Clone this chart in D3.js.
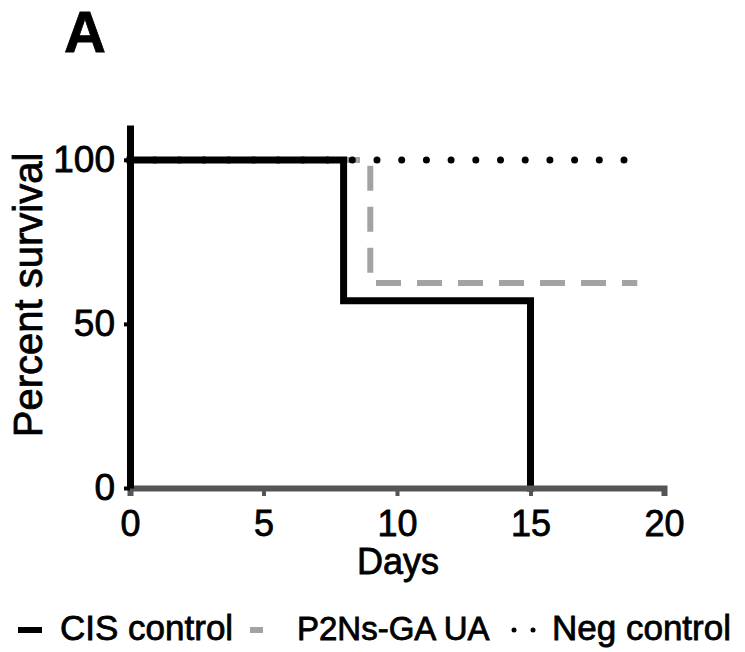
<!DOCTYPE html>
<html>
<head>
<meta charset="utf-8">
<script src="https://cdn.jsdelivr.net/npm/d3@7"></script>
<style>
  body { margin: 0; background: #fff; }
  text { font-family: "Liberation Sans", Arial, sans-serif; fill: #000; stroke: #000; stroke-width: 0.8px; }
</style>
</head>
<body>
<div id="chart"></div>
<script>
// Chart size
const width = 745;
const height = 652;

// Survival data (step curves), days vs percent
const cisDays = [0, 8, 15];
const cisSurvival = [100, 57.1, 0];
const p2nsDays = [0, 9, 19];
const p2nsSurvival = [100, 62.5, 62.5];
const negDays = [0, 19];
const negSurvival = [100, 100];

const xTicks = [0, 5, 10, 15, 20];
const yTicks = [0, 50, 100];
const legendLabels = ["CIS control", "P2Ns-GA UA", "Neg control"];

const svg = d3.select("#chart")
  .append("svg")
  .attr("width", width)
  .attr("height", height);

// Scales
const xScale = d3.scaleLinear()
  .domain([0, 20])
  .range([130, 664]);

const yScale = d3.scaleLinear()
  .domain([0, 100])
  .range([488, 160]);

// Panel letter
svg.append("text")
  .attr("x", 64)
  .attr("y", 52)
  .style("font-size", "58px")
  .style("font-weight", "bold")
  .text("A");

// Lines
const stepLine = d3.line()
  .x(d => xScale(d[0]))
  .y(d => yScale(d[1]))
  .curve(d3.curveStepAfter);

svg.append("path")
  .datum(d3.zip(p2nsDays, p2nsSurvival))
  .attr("d", stepLine)
  .attr("fill", "none")
  .attr("stroke", "#a3a3a3")
  .attr("stroke-width", 6)
  .attr("stroke-dasharray", "25,16");

svg.append("path")
  .datum(d3.zip(negDays, negSurvival))
  .attr("d", stepLine)
  .attr("fill", "none")
  .attr("stroke", "#000")
  .attr("stroke-width", 7)
  .attr("stroke-linecap", "round")
  .attr("stroke-dasharray", "0,24.7");

svg.append("path")
  .datum(d3.zip(cisDays, cisSurvival))
  .attr("d", stepLine)
  .attr("fill", "none")
  .attr("stroke", "#000")
  .attr("stroke-width", 7)
  .attr("stroke-linecap", "square");

// Axes
const xAxis = svg.append("g")
  .attr("transform", `translate(0, ${yScale(0)})`)
  .call(d3.axisBottom(xScale).tickValues(xTicks).tickSize(8).tickPadding(14));
xAxis.select(".domain").attr("stroke", "#555").attr("stroke-width", 6);
xAxis.selectAll(".tick line").attr("stroke", "#555").attr("stroke-width", 4);
xAxis.selectAll(".tick text")
  .style("font-size", "36px")
  .style("font-family", "Liberation Sans, Arial, sans-serif")
  .attr("fill", "#000");

const yAxis = svg.append("g")
  .attr("transform", `translate(${xScale(0)}, 0)`)
  .call(d3.axisLeft(yScale.copy().domain([0, 110.6]).range([488, 125]))
    .tickValues(yTicks).tickSize(6).tickSizeOuter(0).tickPadding(9));
yAxis.select(".domain").attr("stroke", "#000").attr("stroke-width", 7);
yAxis.selectAll(".tick line").attr("stroke", "#000").attr("stroke-width", 4);
yAxis.selectAll(".tick text")
  .style("font-size", "37px")
  .style("font-family", "Liberation Sans, Arial, sans-serif")
  .attr("fill", "#000");

// Axis labels
svg.append("text")
  .attr("x", 398)
  .attr("y", 574)
  .style("text-anchor", "middle")
  .style("font-size", "36px")
  .text("Days");

svg.append("text")
  .attr("transform", "rotate(-90)")
  .attr("x", -295)
  .attr("y", 42)
  .style("text-anchor", "middle")
  .style("font-size", "40px")
  .text("Percent survival");

// Legend
const legendY = 630;
svg.append("line")
  .attr("x1", 18).attr("x2", 42)
  .attr("y1", legendY).attr("y2", legendY)
  .attr("stroke", "#000").attr("stroke-width", 6);
svg.append("line")
  .attr("x1", 250).attr("x2", 263)
  .attr("y1", legendY).attr("y2", legendY)
  .attr("stroke", "#a3a3a3").attr("stroke-width", 6);
svg.selectAll(".negdot")
  .data([514, 533])
  .enter()
  .append("circle")
  .attr("cx", d => d)
  .attr("cy", legendY)
  .attr("r", 2.5)
  .attr("fill", "#000");

const legendX = [60, 297, 552];
const legendSize = [35, 33, 35];
svg.selectAll(".legtext")
  .data(legendLabels)
  .enter()
  .append("text")
  .attr("x", (d, i) => legendX[i])
  .attr("y", 640)
  .style("font-size", (d, i) => legendSize[i] + "px")
  .text(d => d);
</script>
</body>
</html>
